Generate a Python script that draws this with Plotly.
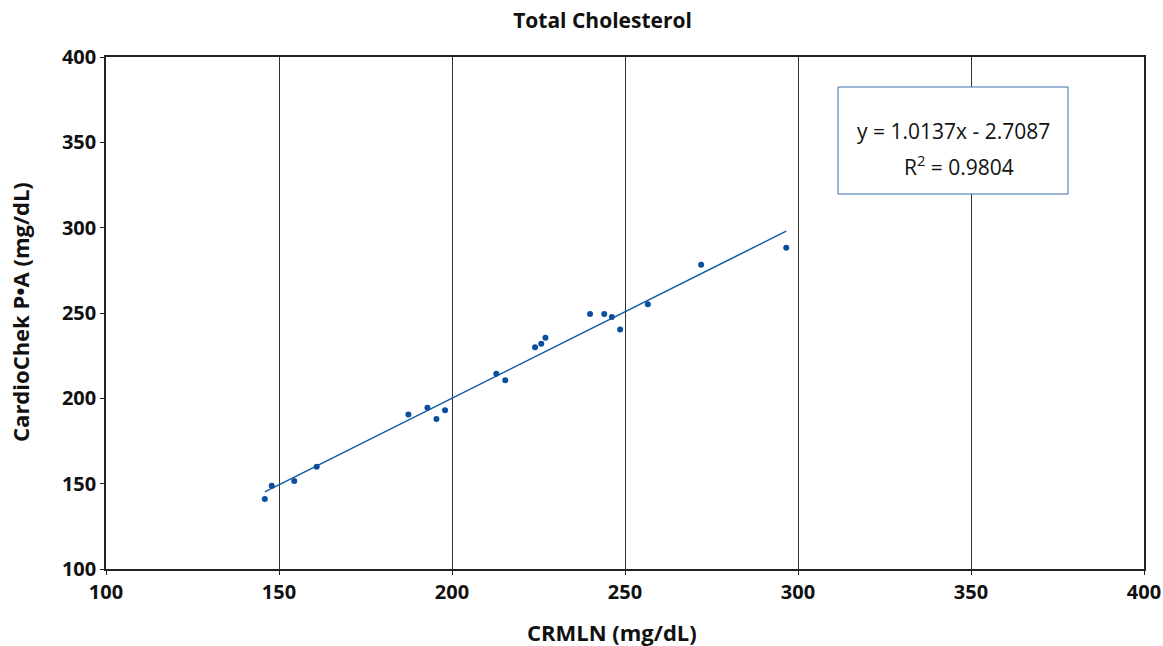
import plotly.graph_objects as go

crmln = [145.9, 147.9, 154.4, 160.9, 187.4, 192.9, 195.5, 198.0, 212.8, 215.4,
         224.0, 225.8, 227.0, 239.9, 244.0, 246.2, 248.6, 256.6, 272.0, 296.6]
cardiochek = [141.0, 148.8, 151.6, 159.9, 190.6, 194.5, 187.9, 193.0, 214.4, 210.6,
              229.9, 232.0, 235.5, 249.4, 249.4, 247.7, 240.4, 255.1, 278.3, 288.3]
slope = 1.0137
intercept = -2.7087
r2 = 0.9804

x_ticks = [100, 150, 200, 250, 300, 350, 400]
y_ticks = [100, 150, 200, 250, 300, 350, 400]

FONT = "Open Sans"
xmin, xmax = min(crmln), max(crmln)
trend_x = [xmin, xmax]
trend_y = [slope * v + intercept for v in trend_x]

fig = go.Figure()
fig.add_trace(go.Scatter(x=trend_x, y=trend_y, mode="lines",
                         line=dict(color="#0e5aa0", width=1.5), showlegend=False))
fig.add_trace(go.Scatter(x=crmln, y=cardiochek, mode="markers",
                         marker=dict(color="#0b4f9c", size=6), showlegend=False))

# equation box
fig.add_shape(type="rect", xref="paper", yref="paper",
              x0=0.7052, x1=0.9268, y0=0.7324, y1=0.9414,
              line=dict(color="#3a6eae", width=1), fillcolor="white", layer="above")
fig.add_annotation(x=0.8165, xref="paper", y=0.8555, yref="paper",
                   xanchor="center", yanchor="middle",
                   text=f"y = {slope}x - {abs(intercept)}", showarrow=False,
                   font=dict(family=FONT, size=21, color="#111"))
fig.add_annotation(x=0.8218, xref="paper", y=0.789, yref="paper",
                   xanchor="center", yanchor="middle",
                   text=f"R<sup>2</sup> = {r2}", showarrow=False,
                   font=dict(family=FONT, size=21, color="#111"))

# axis titles
fig.add_annotation(x=0.4875, xref="paper", y=-0.123, yref="paper",
                   xanchor="center", yanchor="middle",
                   text="<b>CRMLN (mg/dL)</b>", showarrow=False,
                   font=dict(family=FONT, size=22, color="#111"))
fig.add_annotation(x=-0.0829, xref="paper", y=0.502, yref="paper",
                   xanchor="center", yanchor="middle", textangle=-90,
                   text="<b>CardioChek P•A (mg/dL)</b>", showarrow=False,
                   font=dict(family=FONT, size=22, color="#111"))

fig.update_layout(
    width=1163, height=646,
    margin=dict(l=106, r=19, t=57, b=77),
    paper_bgcolor="white", plot_bgcolor="white",
    title=dict(text="<b>Total Cholesterol</b>", x=602.5/1163, xanchor="center",
               y=1 - 21/646, yanchor="middle",
               font=dict(family=FONT, size=21, color="#111")),
    xaxis=dict(range=[100, 400], tickvals=x_ticks, ticks="outside", ticklen=4,
               tickcolor="#222", showline=True, linecolor="#222", linewidth=1.5,
               mirror=True, showgrid=True, gridcolor="#333", gridwidth=1,
               zeroline=False, automargin=False,
               tickfont=dict(family=FONT, size=20, color="#111", weight="bold")),
    yaxis=dict(range=[100, 400], tickvals=y_ticks, ticks="outside", ticklen=4,
               tickcolor="#222", showline=True, linecolor="#222", linewidth=1.5,
               mirror=True, showgrid=False, zeroline=False, automargin=False,
               tickfont=dict(family=FONT, size=20, color="#111", weight="bold")),
)

fig.write_html("out.html", config={"displayModeBar": False},
               post_script="document.body.style.margin='0';")
